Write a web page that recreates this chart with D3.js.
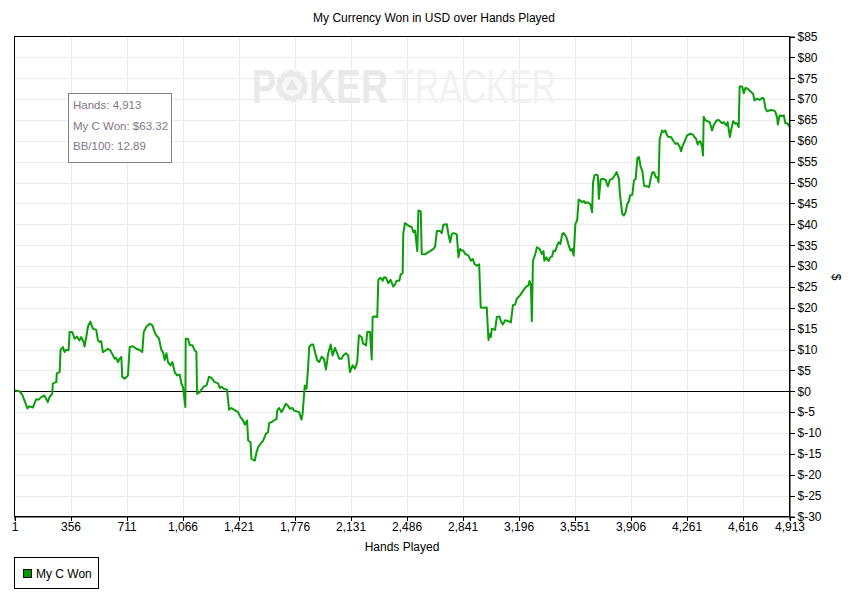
<!DOCTYPE html>
<html><head><meta charset="utf-8">
<script src="https://cdn.jsdelivr.net/npm/d3@7"></script>
<style>
html,body{margin:0;padding:0;background:#fff;}
svg{display:block;font-family:"Liberation Sans",Arial,sans-serif;}
</style></head>
<body>
<svg id="chart" width="851" height="601"></svg>
<script>
const chartTitle = "My Currency Won in USD over Hands Played";
const xAxisTitle = "Hands Played";
const yAxisTitle = "$";
const seriesName = "My C Won";
const infoLines = ["Hands: 4,913", "My C Won: $63.32", "BB/100: 12.89"];
const xTickValues = [1,356,711,1066,1421,1776,2131,2486,2841,3196,3551,3906,4261,4616,4913];
const yTickValues = [-30,-25,-20,-15,-10,-5,0,5,10,15,20,25,30,35,40,45,50,55,60,65,70,75,80,85];

const hands = [
1,33,50,83,96,117,139,155,170,191,
212,223,240,244,266,269,287,293,308,318,
329,344,350,367,382,396,413,424,439,445,
456,466,481,498,519,530,540,551,561,578,
593,608,625,636,646,657,667,678,684,699,
720,731,752,773,794,811,820,837,858,875,
889,900,917,932,942,953,964,974,989,1002,
1016,1031,1048,1059,1069,1084,1086,1101,1112,1129,
1143,1154,1158,1175,1186,1200,1218,1234,1249,1270,
1291,1302,1313,1327,1348,1361,1376,1391,1418,1433,
1450,1461,1475,1482,1497,1503,1524,1535,1545,1560,
1577,1594,1608,1615,1630,1645,1662,1666,1678,1694,
1708,1721,1734,1746,1763,1772,1805,1820,1827,1835,
1841,1852,1862,1869,1884,1894,1911,1920,1932,1948,
1962,1975,1989,2005,2017,2032,2047,2059,2074,2085,
2102,2116,2127,2144,2159,2173,2184,2201,2211,2229,
2237,2254,2265,2271,2286,2300,2307,2322,2335,2343,
2356,2370,2385,2402,2413,2423,2440,2449,2461,2465,
2476,2497,2519,2529,2540,2554,2561,2576,2582,2603,
2614,2635,2656,2667,2678,2699,2709,2719,2741,2751,
2762,2773,2787,2804,2815,2825,2836,2846,2857,2878,
2893,2906,2916,2931,2946,2956,2977,2994,3005,3015,
3020,3026,3047,3058,3075,3084,3096,3111,3132,3147,
3160,3174,3185,3206,3223,3244,3259,3265,3274,3280,
3287,3302,3312,3329,3344,3354,3359,3372,3386,3397,
3408,3418,3429,3440,3450,3461,3472,3482,3499,3514,
3525,3535,3545,3556,3567,3577,3588,3598,3609,3619,
3634,3651,3662,3668,3677,3690,3698,3705,3716,3726,
3747,3762,3775,3790,3805,3817,3832,3838,3853,3863,
3874,3885,3895,3902,3917,3927,3938,3949,3959,3970,
3980,3991,4001,4012,4023,4033,4044,4054,4065,4075,
4083,4090,4105,4115,4126,4137,4147,4162,4175,4189,
4204,4217,4226,4232,4242,4253,4264,4285,4302,4310,
4321,4331,4337,4348,4359,4365,4369,4380,4394,4407,
4422,4432,4450,4464,4475,4486,4496,4513,4521,4535,
4543,4556,4570,4581,4591,4597,4613,4623,4634,4648,
4665,4682,4691,4708,4724,4740,4750,4761,4771,4792,
4813,4824,4835,4839,4851,4866,4877,4887,4900,4913];

const won = [
0.2,0.0,-0.8,-4.1,-3.6,-3.9,-1.9,-2.0,-1.4,-1.0,
-2.6,-1.4,-0.6,1.9,2.2,4.3,4.6,9.9,10.6,9.4,
9.9,9.9,14.2,14.2,12.6,13.1,12.2,13.0,11.8,10.7,
13.0,15.4,16.7,15.0,14.7,12.2,11.8,12.0,9.4,9.8,
10.2,9.8,8.6,7.8,8.0,7.0,7.8,8.2,3.5,3.0,
3.8,10.6,10.8,10.2,9.9,9.4,14.2,15.5,16.2,15.8,
14.2,13.4,12.6,9.9,9.4,7.5,9.1,7.0,6.2,7.0,
4.6,3.8,4.0,1.8,1.0,-3.8,12.6,12.6,11.0,11.0,
9.8,9.4,-0.6,-0.2,0.4,1.1,1.4,3.5,3.2,2.2,
1.9,0.8,1.1,0.6,0.4,-4.4,-4.0,-4.4,-5.0,-6.2,
-7.0,-8.0,-7.0,-11.8,-12.2,-16.2,-16.6,-14.6,-13.4,-12.6,
-11.8,-10.2,-9.8,-7.6,-7.4,-7.0,-6.6,-4.6,-4.0,-5.0,
-4.0,-3.0,-3.4,-4.2,-4.0,-4.6,-5.0,-6.8,-5.4,-1.4,
1.4,0.6,5.8,10.6,11.2,11.2,8.6,7.4,7.0,8.3,
7.8,5.2,9.0,11.2,8.6,10.4,9.0,7.8,7.8,8.6,
9.1,8.6,4.6,6.2,5.4,7.0,13.4,13.0,11.4,11.0,
14.2,14.2,7.6,17.8,17.9,17.8,26.7,27.2,26.5,27.3,
27.2,25.9,26.7,25.1,25.6,26.5,26.5,28.0,28.3,37.7,
40.3,39.7,39.3,38.1,38.5,33.6,43.3,43.1,32.9,32.8,
33.1,33.6,34.1,34.7,38.4,38.4,37.9,39.9,40.0,37.7,
35.7,37.7,37.9,37.6,32.1,34.1,33.7,33.7,32.9,32.5,
31.3,31.7,30.5,30.1,30.4,20.1,20.0,20.1,12.3,13.8,
13.0,15.0,14.7,17.8,17.9,16.8,16.0,17.0,16.8,16.5,
20.6,20.8,22.2,23.0,24.0,25.1,25.4,26.4,25.4,16.8,
31.2,32.9,34.5,34.1,32.9,33.6,31.3,32.1,31.2,32.1,
32.3,33.7,33.6,34.9,35.7,35.3,37.6,37.9,36.9,34.9,
33.7,34.1,32.5,40.1,40.9,45.9,45.7,45.3,45.6,45.1,
45.3,44.8,42.9,50.1,51.7,51.9,51.7,46.1,50.7,50.9,
50.7,49.1,50.7,50.9,51.7,52.5,50.9,47.3,42.5,42.1,
42.9,44.9,45.5,46.9,47.1,50.5,50.9,55.9,56.1,53.7,
52.9,49.3,49.1,49.1,48.9,50.9,52.5,52.5,51.3,51.3,
50.1,60.3,62.5,62.1,62.5,61.3,60.9,60.9,60.1,59.3,
59.4,58.6,57.5,58.5,59.3,60.3,61.3,61.7,61.5,60.9,
60.5,59.1,59.7,59.9,58.5,56.5,65.8,64.9,64.7,64.5,
62.5,63.7,64.9,65.0,64.6,64.2,64.5,63.7,64.5,60.9,
62.6,64.7,64.1,64.2,63.3,73.0,73.0,71.4,72.7,72.5,
71.9,71.3,69.7,70.1,69.8,70.3,70.1,67.7,67.1,67.4,
67.3,66.9,65.5,63.9,66.1,65.9,66.1,64.2,64.2,63.32];

const svg = d3.select("#chart");
const pLeft = 14.5, pRight = 789.5, pTop = 36.5, pBottom = 516.5;
const x = d3.scaleLinear().domain([1, 4913]).range([pLeft, pRight]);
const y = d3.scaleLinear().domain([-30, 85]).range([pBottom, pTop]);

svg.append("rect").attr("width", 851).attr("height", 601).attr("fill", "#fff");

// grid
const grid = svg.append("g").attr("shape-rendering", "crispEdges");
grid.selectAll("line.v").data(xTickValues.slice(1, -1)).join("line").attr("class", "v")
  .attr("x1", d => Math.round(x(d)) + 0.5).attr("x2", d => Math.round(x(d)) + 0.5)
  .attr("y1", pTop).attr("y2", pBottom).attr("stroke", "#ebebeb");
grid.selectAll("line.h").data(yTickValues.slice(1, -1)).join("line").attr("class", "h")
  .attr("y1", d => Math.round(y(d)) + 0.5).attr("y2", d => Math.round(y(d)) + 0.5)
  .attr("x1", pLeft).attr("x2", pRight).attr("stroke", "#ebebeb");

// watermark (widths fitted by horizontal scaling so the boxes don't collide)
const wm = svg.append("g");
function wmText(str, x0, targetW, bold, fill) {
  const t = wm.append("text").attr("font-size", 48).attr("font-weight", bold ? "bold" : "normal")
    .attr("fill", fill).text(str);
  const w = t.node().getComputedTextLength() || targetW;
  t.attr("transform", `translate(${x0},103) scale(${targetW / w},1)`);
}
wmText("P", 252, 24, true, "#e9e9e9");
wm.append("circle").attr("cx", 292).attr("cy", 86).attr("r", 16).attr("fill", "#e9e9e9");
wm.append("circle").attr("cx", 292).attr("cy", 86).attr("r", 16).attr("fill", "none")
  .attr("stroke", "#f7f7f7").attr("stroke-width", 3).attr("stroke-dasharray", "4 4.4");
wm.append("circle").attr("cx", 292).attr("cy", 86).attr("r", 10).attr("fill", "#f7f7f7");
wm.append("path").attr("transform", "translate(292,86)")
  .attr("d", d3.symbol(d3.symbolTriangle, 70)()).attr("fill", "#e6e6e6");
wmText("KER", 309, 79, true, "#e9e9e9");
wmText("TRACKER", 394, 162, false, "#f2f2f2");

// zero line
svg.append("line").attr("x1", pLeft).attr("x2", pRight)
  .attr("y1", Math.round(y(0)) + 0.5).attr("y2", Math.round(y(0)) + 0.5)
  .attr("stroke", "#000").attr("shape-rendering", "crispEdges");

// series line
const data = hands.map((h, i) => [h, won[i]]);
svg.append("path").datum(data)
  .attr("fill", "none").attr("stroke", "#0a9e0a").attr("stroke-width", 2)
  .attr("stroke-linejoin", "round")
  .attr("d", d3.line().x(d => x(d[0])).y(d => y(d[1])));

// frame
svg.append("rect").attr("x", pLeft).attr("y", pTop).attr("width", pRight - pLeft).attr("height", pBottom - pTop)
  .attr("fill", "none").attr("stroke", "#000").attr("shape-rendering", "crispEdges");

// x axis
const xAxis = svg.append("g").attr("transform", `translate(0,${pBottom})`)
  .call(d3.axisBottom(x).tickValues(xTickValues).tickFormat(d3.format(",")).tickSize(4).tickPadding(2));
xAxis.select(".domain").attr("stroke", "#000");
xAxis.selectAll("line").attr("stroke", "#000").attr("shape-rendering", "crispEdges");
xAxis.selectAll("text").attr("font-size", 12).attr("fill", "#000")
  .attr("font-family", "Liberation Sans, Arial, sans-serif");

// y axis (right)
const yAxis = svg.append("g").attr("transform", `translate(${pRight},0)`)
  .call(d3.axisRight(y).tickValues(yTickValues).tickFormat(d => "$" + d).tickSize(5).tickPadding(3));
yAxis.select(".domain").attr("stroke", "#000");
yAxis.selectAll("line").attr("stroke", "#000").attr("shape-rendering", "crispEdges");
yAxis.selectAll("text").attr("font-size", 12).attr("fill", "#000")
  .attr("font-family", "Liberation Sans, Arial, sans-serif");

// titles
svg.append("text").attr("x", 434).attr("y", 22).attr("text-anchor", "middle")
  .attr("font-size", 12).attr("fill", "#000").text(chartTitle);
svg.append("text").attr("x", (pLeft + pRight) / 2).attr("y", 551).attr("text-anchor", "middle")
  .attr("font-size", 12).attr("fill", "#000").text(xAxisTitle);
svg.append("text").attr("transform", "translate(832,277) rotate(90)").attr("text-anchor", "middle")
  .attr("font-size", 12).attr("fill", "#000").text(yAxisTitle);

// info box
svg.append("rect").attr("x", 68.5).attr("y", 93.5).attr("width", 103).attr("height", 69)
  .attr("fill", "#fff").attr("stroke", "#808080");
svg.selectAll("text.info").data(infoLines).join("text").attr("class", "info")
  .attr("x", 73).attr("y", (d, i) => 109 + i * 20.5)
  .attr("font-size", 11.5).attr("fill", "#857585").text(d => d);

// legend
svg.append("rect").attr("x", 14.5).attr("y", 557.5).attr("width", 84).attr("height", 31)
  .attr("fill", "#fff").attr("stroke", "#000");
svg.append("rect").attr("x", 23.5).attr("y", 569.5).attr("width", 8).attr("height", 8)
  .attr("fill", "#009900").attr("stroke", "#000");
svg.append("text").attr("x", 36).attr("y", 577.5).attr("font-size", 12).attr("fill", "#000").text(seriesName);
</script>
</body></html>
